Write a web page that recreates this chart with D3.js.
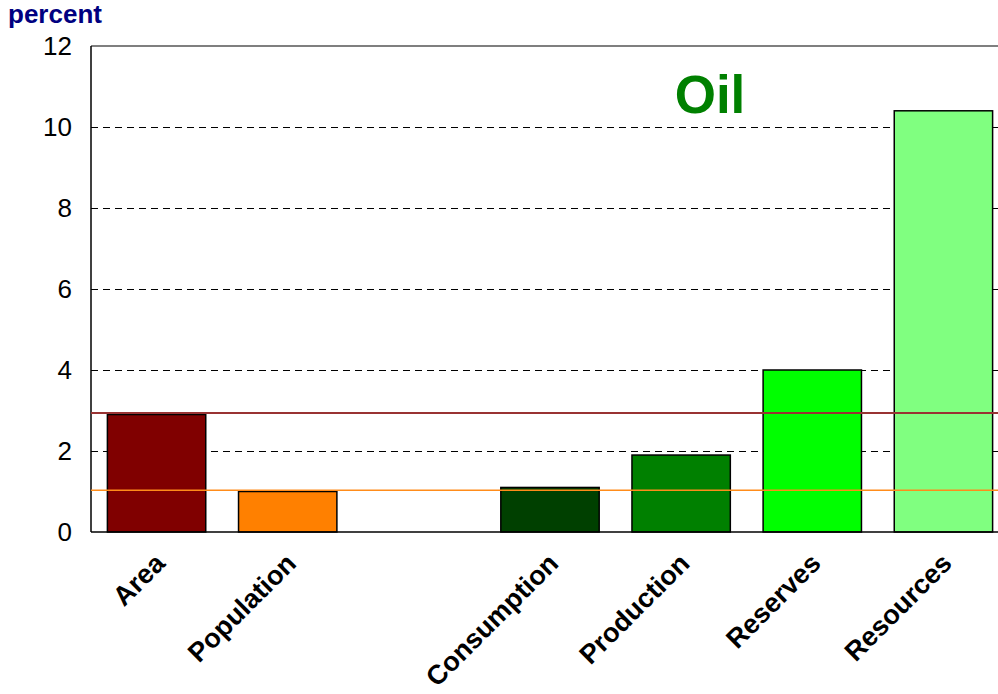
<!DOCTYPE html>
<html>
<head>
<meta charset="utf-8">
<script src="https://cdn.jsdelivr.net/npm/d3@7"></script>
<style>
  html, body { margin: 0; padding: 0; background: #fff; }
  svg { display: block; font-family: "Liberation Sans", Arial, sans-serif; }
</style>
</head>
<body>
<svg id="chart" width="998" height="694"></svg>
<script>
// ---- data ----
const categories = ["Area", "Population", "", "Consumption", "Production", "Reserves", "Resources"];
const values = [2.9, 1.0, null, 1.1, 1.9, 4.0, 10.4];
const barColors = ["#800000", "#FF8000", "#ffffff", "#004000", "#008000", "#00FF00", "#80FF80"];
const yTicks = [0, 2, 4, 6, 8, 10, 12];
const refValues = [2.94, 1.03];
const refColors = ["#993333", "#FF8C1A"];
const chartTitle = "Oil";
const yLabel = "percent";

// ---- layout ----
const svg = d3.select("#chart");
const plotL = 91, plotR = 1009, plotT = 46, plotB = 532;

const x = d3.scaleBand().domain(categories.map((c, i) => i)).range([plotL, plotR])
  .paddingInner(0.25).paddingOuter(0.125);
const y = d3.scaleLinear().domain([0, 12]).range([plotB, plotT]);

// gridlines (dashed)
svg.append("g").selectAll("line").data(yTicks.filter(t => t > 0 && t < 12)).join("line")
  .attr("x1", plotL).attr("x2", plotR)
  .attr("y1", d => Math.round(y(d)) + 0.5).attr("y2", d => Math.round(y(d)) + 0.5)
  .attr("stroke", "#000").attr("stroke-width", 1).attr("stroke-dasharray", "7,5")
  .attr("shape-rendering", "crispEdges");

// bars
svg.append("g").selectAll("rect").data(values.map((v, i) => ({v, i})).filter(d => d.v !== null)).join("rect")
  .attr("x", d => x(d.i)).attr("width", x.bandwidth())
  .attr("y", d => y(d.v)).attr("height", d => y(0) - y(d.v))
  .attr("fill", d => barColors[d.i]).attr("stroke", "#000").attr("stroke-width", 1.5);

// frame: top, left, bottom
svg.append("line").attr("x1", plotL).attr("x2", plotR).attr("y1", plotT).attr("y2", plotT)
  .attr("stroke", "#000").attr("stroke-width", 1.2);
svg.append("line").attr("x1", plotL).attr("x2", plotR).attr("y1", plotB).attr("y2", plotB)
  .attr("stroke", "#000").attr("stroke-width", 1.5);
svg.append("line").attr("x1", plotL).attr("x2", plotL).attr("y1", plotT).attr("y2", plotB)
  .attr("stroke", "#000").attr("stroke-width", 1.5);

// reference lines
svg.append("g").selectAll("line").data(refValues).join("line")
  .attr("x1", plotL).attr("x2", 998)
  .attr("y1", d => y(d)).attr("y2", d => y(d))
  .attr("stroke", (d, i) => refColors[i]).attr("stroke-width", (d, i) => i === 0 ? 2 : 1.5);

// y tick labels
svg.append("g").selectAll("text").data(yTicks).join("text")
  .attr("x", plotL - 19).attr("y", d => y(d)).attr("dy", "0.36em")
  .attr("text-anchor", "end").attr("font-size", 26).attr("fill", "#000")
  .text(d => d);

// x labels
svg.append("g").selectAll("text").data(categories.map((c, i) => ({c, i})).filter(d => d.c !== "")).join("text")
  .attr("transform", d => `translate(${x(d.i) + x.bandwidth() / 2 + 10},${plotB + 33}) rotate(-45)`)
  .attr("text-anchor", "end").attr("font-size", 27).attr("font-weight", "bold").attr("fill", "#000")
  .text(d => d.c);

// y label
svg.append("text").attr("x", 8).attr("y", 23)
  .attr("font-size", 26).attr("font-weight", "bold").attr("fill", "#000080").text(yLabel);

// title
svg.append("text").attr("x", 710).attr("y", 113).attr("text-anchor", "middle")
  .attr("font-size", 53).attr("font-weight", "bold").attr("fill", "#008000").text(chartTitle);
</script>
</body>
</html>
